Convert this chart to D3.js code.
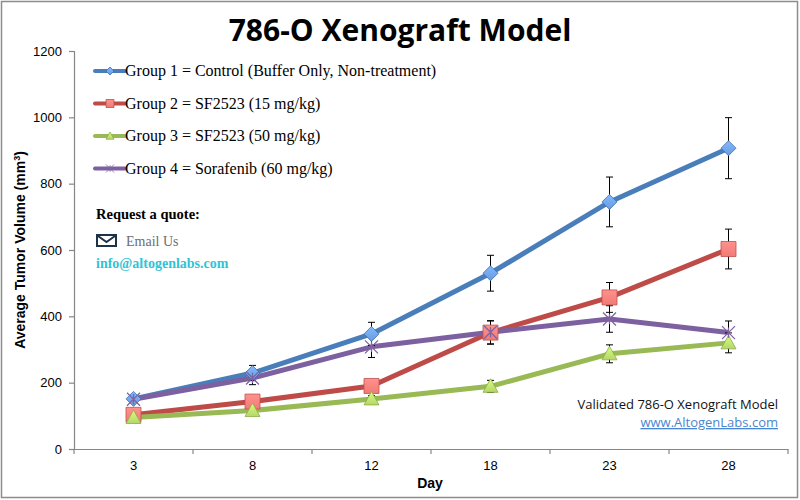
<!DOCTYPE html>
<html>
<head>
<meta charset="utf-8">
<script src="https://cdn.jsdelivr.net/npm/d3@7"></script>
<style>
  body { margin: 0; background: #fff; }
  svg { display: block; }
</style>
</head>
<body>
<svg id="chart"></svg>
<script>
// Data
const days = ["3", "8", "12", "18", "23", "28"];
const seriesNames = [
  "Group 1 = Control (Buffer Only, Non-treatment)",
  "Group 2 = SF2523 (15 mg/kg)",
  "Group 3 = SF2523 (50 mg/kg)",
  "Group 4 = Sorafenib (60 mg/kg)"
];
const group1 = [151, 229, 347, 530, 745, 907];
const group1Err = [10, 23, 35, 54, 75, 92];
const group2 = [103, 143, 190, 351, 457, 603];
const group2Err = [8, 10, 14, 35, 45, 60];
const group3 = [95, 116, 151, 189, 287, 320];
const group3Err = [6, 8, 10, 18, 27, 30];
const group4 = [150, 214, 308, 352, 392, 351];
const group4Err = [8, 20, 32, 35, 40, 35];
const yTicks = [0, 200, 400, 600, 800, 1000, 1200];

const W = 800, H = 500;
const margin = {left: 74, right: 12, top: 51, bottom: 51};

const svg = d3.select("#chart")
  .attr("width", W)
  .attr("height", H);

// outer frame
svg.append("rect")
  .attr("x", 1.5).attr("y", 1.5)
  .attr("width", W - 4).attr("height", H - 4)
  .attr("fill", "#fff")
  .attr("stroke", "#8c8c8c").attr("stroke-width", 1.5);

const x = d3.scaleBand()
  .domain(days)
  .range([margin.left, W - margin.right])
  .padding(0);

const y = d3.scaleLinear()
  .domain([0, 1200])
  .range([H - margin.bottom, margin.top]);

const series = [
  {name: seriesNames[0], values: group1, err: group1Err, line: "#4a7ebb", fill: "#6b9be0", stroke: "#3d6fb0", marker: "diamond"},
  {name: seriesNames[1], values: group2, err: group2Err, line: "#be4b48", fill: "#f07a76", stroke: "#c0504d", marker: "square"},
  {name: seriesNames[2], values: group3, err: group3Err, line: "#98b954", fill: "#b5d66a", stroke: "#8aad45", marker: "triangle"},
  {name: seriesNames[3], values: group4, err: group4Err, line: "#7d60a0", fill: "none", stroke: "#8064a2", marker: "star"}
];

// gradients for the markers
const defs = svg.append("defs");
series.forEach((s, i) => {
  if (s.fill === "none") return;
  const g = defs.append("linearGradient")
    .attr("id", "grad" + i)
    .attr("x1", 0).attr("y1", 0).attr("x2", 0).attr("y2", 1);
  g.append("stop").attr("offset", "0%").attr("stop-color", d3.color(s.fill).brighter(0.5));
  g.append("stop").attr("offset", "100%").attr("stop-color", s.fill);
});

// marker shapes
function markerPath(type, size) {
  const r = size / 2;
  if (type === "diamond") return `M0,${-r}L${r},0L0,${r}L${-r},0Z`;
  if (type === "square") return `M${-r},${-r}H${r}V${r}H${-r}Z`;
  if (type === "triangle") return `M0,${-r}L${r},${r * 0.8}H${-r}Z`;
  // star: an x with a vertical stroke
  return `M${-r},${-r}L${r},${r}M${-r},${r}L${r},${-r}M0,${-r * 0.8}V${r * 0.8}`;
}

// axes
const xAxis = d3.axisBottom(x).tickSize(0).tickPadding(12);
const gx = svg.append("g")
  .attr("transform", `translate(0, ${y(0)})`)
  .call(xAxis);
gx.select(".domain").attr("stroke", "#868686").attr("stroke-width", 1.2);
gx.selectAll("text")
  .attr("font-family", "'Liberation Sans', Arial, sans-serif")
  .attr("font-size", 13).attr("fill", "#000");

// category boundary ticks on the x axis
svg.append("g").selectAll("line")
  .data(days.concat(["end"]))
  .enter().append("line")
  .attr("x1", (d, i) => i < days.length ? x(d) : x(days[days.length - 1]) + x.bandwidth())
  .attr("x2", (d, i) => i < days.length ? x(d) : x(days[days.length - 1]) + x.bandwidth())
  .attr("y1", y(0)).attr("y2", y(0) + 5)
  .attr("stroke", "#868686").attr("stroke-width", 1.2);

const yAxis = d3.axisLeft(y).tickValues(yTicks).tickFormat(d3.format("d")).tickSize(5).tickPadding(7);
const gy = svg.append("g")
  .attr("transform", `translate(${margin.left}, 0)`)
  .call(yAxis);
gy.selectAll(".domain, line").attr("stroke", "#868686").attr("stroke-width", 1.2);
gy.selectAll("text")
  .attr("font-family", "'Liberation Sans', Arial, sans-serif")
  .attr("font-size", 13).attr("fill", "#000");

// lines
const lineGen = d3.line()
  .x((d, i) => x(days[i]) + x.bandwidth() / 2)
  .y(d => y(d));

series.forEach(s => {
  svg.append("path")
    .datum(s.values)
    .attr("d", lineGen)
    .attr("fill", "none")
    .attr("stroke", s.line)
    .attr("stroke-width", 5)
    .attr("stroke-linejoin", "round");
});

// error bars
series.forEach(s => {
  const g = svg.append("g").attr("stroke", "#000").attr("stroke-width", 1);
  s.values.forEach((v, i) => {
    const cx = x(days[i]) + x.bandwidth() / 2;
    const top = y(v + s.err[i]), bot = y(v - s.err[i]);
    g.append("line").attr("x1", cx).attr("x2", cx).attr("y1", top).attr("y2", bot);
    g.append("line").attr("x1", cx - 3.5).attr("x2", cx + 3.5).attr("y1", top).attr("y2", top);
    g.append("line").attr("x1", cx - 3.5).attr("x2", cx + 3.5).attr("y1", bot).attr("y2", bot);
  });
});

// markers
series.forEach((s, si) => {
  svg.append("g").selectAll("path")
    .data(s.values)
    .enter().append("path")
    .attr("transform", (d, i) => `translate(${x(days[i]) + x.bandwidth() / 2}, ${y(d)})`)
    .attr("d", markerPath(s.marker, s.marker === "star" ? 13 : 15))
    .attr("fill", s.fill === "none" ? "none" : `url(#grad${si})`)
    .attr("stroke", s.stroke)
    .attr("stroke-width", s.marker === "star" ? 1.3 : 0.8);
});

// title
svg.append("text")
  .attr("x", 400).attr("y", 41)
  .attr("text-anchor", "middle")
  .attr("font-family", "'Open Sans', sans-serif")
  .attr("font-weight", "bold")
  .attr("font-size", 30)
  .text("786-O Xenograft Model");

// axis titles
svg.append("text")
  .attr("x", 430).attr("y", 488)
  .attr("text-anchor", "middle")
  .attr("font-family", "'Liberation Sans', Arial, sans-serif")
  .attr("font-weight", "bold").attr("font-size", 14)
  .text("Day");

const yLabel = svg.append("text")
  .attr("transform", `translate(25, ${y(600)}) rotate(-90)`)
  .attr("text-anchor", "middle")
  .attr("font-family", "'Liberation Sans', Arial, sans-serif")
  .attr("font-weight", "bold").attr("font-size", 14);
yLabel.append("tspan").text("Average Tumor Volume (mm");
yLabel.append("tspan").attr("font-size", 9).attr("dy", -5).text("3");
yLabel.append("tspan").attr("dy", 5).text(")");

// legend
const legend = svg.append("g").attr("transform", "translate(95, 71)");
series.forEach((s, i) => {
  const row = legend.append("g").attr("transform", `translate(0, ${i * 32.5})`);
  row.append("line")
    .attr("x1", 0).attr("x2", 30).attr("y1", 0).attr("y2", 0)
    .attr("stroke", s.line).attr("stroke-width", 4).attr("stroke-linecap", "round");
  row.append("path")
    .attr("transform", "translate(15, 0)")
    .attr("d", markerPath(s.marker, 8))
    .attr("fill", s.fill === "none" ? "none" : `url(#grad${i})`)
    .attr("stroke", s.stroke).attr("stroke-width", 0.8);
  row.append("text")
    .attr("x", 30).attr("y", 5)
    .attr("font-family", "'Liberation Serif', 'Times New Roman', serif")
    .attr("font-size", 16).attr("fill", "#000")
    .text(s.name);
});

// quote block
svg.append("text")
  .attr("x", 96).attr("y", 219)
  .attr("font-family", "'Liberation Serif', 'Times New Roman', serif")
  .attr("font-weight", "bold").attr("font-size", 14.5)
  .text("Request a quote:");

const icon = svg.append("g").attr("transform", "translate(97, 235)")
  .attr("fill", "none").attr("stroke", "#1e3345").attr("stroke-width", 2);
icon.append("rect").attr("x", 0).attr("y", 0).attr("width", 19).attr("height", 11);
icon.append("path").attr("d", "M1,1L9.5,7L18,1");

svg.append("text")
  .attr("x", 126).attr("y", 246)
  .attr("font-family", "'Liberation Serif', 'Times New Roman', serif")
  .attr("font-size", 14).attr("fill", "#6d6d6d")
  .text("Email Us");

svg.append("text")
  .attr("x", 96).attr("y", 268)
  .attr("font-family", "'Liberation Serif', 'Times New Roman', serif")
  .attr("font-weight", "bold").attr("font-size", 14).attr("fill", "#2ec4d6")
  .text("info@altogenlabs.com");

// watermark
svg.append("text")
  .attr("x", 778).attr("y", 409)
  .attr("text-anchor", "end")
  .attr("font-family", "'Open Sans', sans-serif")
  .attr("font-size", 13).attr("fill", "#111")
  .text("Validated 786-O Xenograft Model");

svg.append("text")
  .attr("x", 778).attr("y", 427)
  .attr("text-anchor", "end")
  .attr("font-family", "'Open Sans', sans-serif")
  .attr("font-size", 13).attr("fill", "#4a86cf")
  .attr("text-decoration", "underline")
  .text("www.AltogenLabs.com");
</script>
</body>
</html>
